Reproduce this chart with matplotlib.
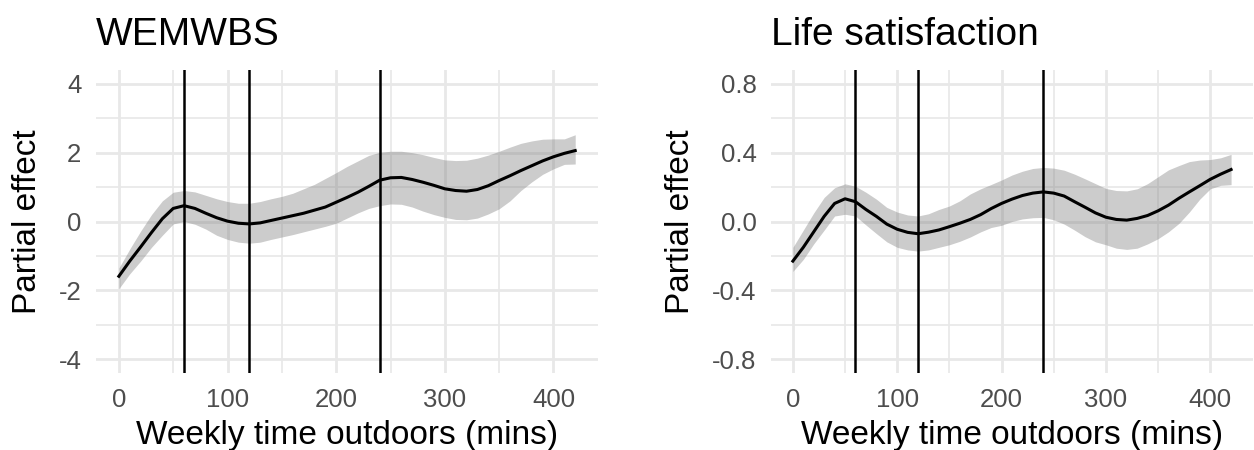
import matplotlib
matplotlib.use("Agg")
import matplotlib.pyplot as plt
from matplotlib.ticker import MultipleLocator

plt.rcParams['font.family'] = ['Liberation Sans', 'DejaVu Sans']

# weekly minutes outdoors, smooth evaluated every 10 mins
minutes = list(range(0, 430, 10))
cutoffs = [60, 120, 240]

# WEMWBS partial effect with confidence band
wem_fit = [-1.59, -1.15, -0.74, -0.32, 0.08, 0.38, 0.46, 0.38, 0.24, 0.11,
           0.01, -0.05, -0.07, -0.04, 0.03, 0.10, 0.17, 0.24, 0.33, 0.42,
           0.56, 0.70, 0.85, 1.02, 1.20, 1.27, 1.28, 1.22, 1.14, 1.05,
           0.95, 0.90, 0.88, 0.93, 1.04, 1.19, 1.33, 1.48, 1.62, 1.76,
           1.88, 1.98, 2.06]
wem_upper = [-1.35, -0.80, -0.28, 0.20, 0.60, 0.85, 0.90, 0.86, 0.76, 0.66,
             0.58, 0.53, 0.53, 0.58, 0.66, 0.73, 0.82, 0.95, 1.08, 1.25,
             1.42, 1.60, 1.76, 1.92, 2.01, 2.04, 2.04, 2.00, 1.94, 1.86,
             1.79, 1.77, 1.78, 1.84, 1.93, 2.04, 2.16, 2.27, 2.34, 2.39,
             2.40, 2.40, 2.52]
wem_lower = [-1.95, -1.52, -1.15, -0.75, -0.40, -0.07, 0.00, -0.08, -0.22, -0.40,
             -0.52, -0.60, -0.63, -0.60, -0.52, -0.45, -0.38, -0.30, -0.22, -0.14,
             -0.05, 0.10, 0.25, 0.38, 0.46, 0.51, 0.50, 0.42, 0.30, 0.20,
             0.12, 0.06, 0.05, 0.10, 0.22, 0.37, 0.60, 0.90, 1.15, 1.37,
             1.53, 1.66, 1.67]

# life satisfaction partial effect with confidence band
life_fit = [-0.23, -0.15, -0.06, 0.03, 0.105, 0.132, 0.115, 0.07, 0.03, -0.015,
            -0.045, -0.063, -0.071, -0.062, -0.049, -0.03, -0.01, 0.012, 0.04, 0.075,
            0.105, 0.13, 0.151, 0.165, 0.172, 0.165, 0.148, 0.115, 0.083, 0.05,
            0.025, 0.012, 0.008, 0.018, 0.035, 0.062, 0.095, 0.135, 0.172, 0.208,
            0.245, 0.275, 0.302]
life_upper = [-0.15, -0.05, 0.05, 0.14, 0.196, 0.219, 0.205, 0.17, 0.13, 0.082,
              0.055, 0.038, 0.032, 0.045, 0.07, 0.09, 0.12, 0.16, 0.19, 0.215,
              0.241, 0.27, 0.292, 0.308, 0.314, 0.31, 0.298, 0.275, 0.248, 0.22,
              0.192, 0.18, 0.178, 0.19, 0.22, 0.26, 0.30, 0.325, 0.348, 0.357,
              0.36, 0.37, 0.39]
life_lower = [-0.29, -0.22, -0.13, -0.05, 0.032, 0.042, 0.032, -0.02, -0.07, -0.118,
              -0.15, -0.165, -0.172, -0.165, -0.15, -0.135, -0.115, -0.09, -0.06, -0.035,
              -0.022, 0.0, 0.015, 0.022, 0.024, 0.01, -0.015, -0.05, -0.088, -0.118,
              -0.135, -0.155, -0.162, -0.155, -0.13, -0.10, -0.06, -0.011, 0.055, 0.13,
              0.19, 0.21, 0.214]


def draw_panel(ax, title, fit, lower, upper, lim, major, ylab_x):
    ax.set_xlim(-21, 441)
    ax.set_ylim(-lim * 1.1, lim * 1.1)
    ax.xaxis.set_major_locator(MultipleLocator(100))
    ax.xaxis.set_minor_locator(MultipleLocator(50))
    ax.yaxis.set_major_locator(MultipleLocator(major))
    ax.yaxis.set_minor_locator(MultipleLocator(major / 2))
    ax.grid(True, which='major', color='#E8E8E8', linewidth=2.0)
    ax.grid(True, which='minor', color='#E8E8E8', linewidth=1.2)
    ax.set_axisbelow(True)
    for s in ax.spines.values():
        s.set_visible(False)
    ax.tick_params(which='both', length=0, labelsize=18.5, labelcolor='#4D4D4D')
    ax.tick_params(axis='x', pad=11)
    ax.tick_params(axis='y', pad=10.5)

    ax.fill_between(minutes, lower, upper, color='grey', alpha=0.4, linewidth=0, zorder=2)
    for c in cutoffs:
        ax.axvline(c, color='black', linewidth=1.8, zorder=3)
    ax.plot(minutes, fit, color='black', linewidth=2.2, zorder=4,
            solid_joinstyle='round')

    ax.set_title(title, loc='left', fontsize=28, pad=18)
    ax.set_xlabel('Weekly time outdoors (mins)', fontsize=24)
    ax.set_ylabel('Partial effect', fontsize=24)
    ax.xaxis.set_label_coords(0.5, -0.155)
    ax.yaxis.set_label_coords(ylab_x, 0.5)


fig = plt.figure(figsize=(12.54, 4.5), dpi=100)
ax1 = fig.add_axes([0.0766, 0.1711, 0.4003, 0.6733])
ax2 = fig.add_axes([0.6148, 0.1711, 0.3844, 0.6733])

draw_panel(ax1, 'WEMWBS', wem_fit, wem_lower, wem_upper, 4, 2, -0.1056)
draw_panel(ax2, 'Life satisfaction', life_fit, life_lower, life_upper, 0.8, 0.4, -0.1556)
ax1.set_yticks([-4, -2, 0, 2, 4])
ax1.set_yticklabels(['-4', '-2', '0', '2', '4'])
ax2.set_yticks([-0.8, -0.4, 0.0, 0.4, 0.8])
ax2.set_yticklabels(['-0.8', '-0.4', '0.0', '0.4', '0.8'])

fig.savefig('out.png', dpi=100)
